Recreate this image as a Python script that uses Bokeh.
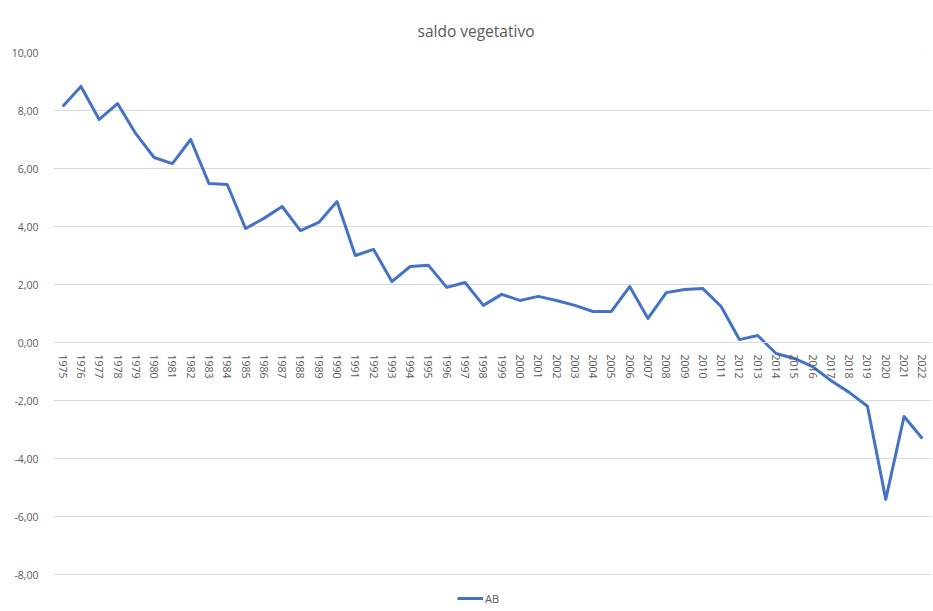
from bokeh.plotting import figure
from bokeh.models import Range1d, CustomJSTickFormatter, FixedTicker, Legend, LegendItem, Title
from bokeh.embed import file_html
from bokeh.resources import INLINE

years = [str(y) for y in range(1975, 2023)]
saldo = [8.14, 8.83, 7.69, 8.24, 7.20, 6.38, 6.17, 7.00, 5.48, 5.45,
         3.93, 4.28, 4.69, 3.86, 4.14, 4.86, 3.00, 3.21, 2.10, 2.62,
         2.66, 1.90, 2.07, 1.28, 1.66, 1.45, 1.59, 1.45, 1.28, 1.07,
         1.07, 1.93, 0.83, 1.72, 1.83, 1.86, 1.24, 0.10, 0.24, -0.38,
         -0.55, -0.83, -1.31, -1.72, -2.20, -5.41, -2.55, -3.31]
y_ticks = [-8, -6, -4, -2, 0, 2, 4, 6, 8, 10]
series_name = "AB"
title_text = "saldo vegetativo"

GREY = "#595959"
GRID = "#d9d9d9"
FONT = "Open Sans"

# frame spans from y=52 (value 10) to the canvas bottom; 29 px per unit
FRAME_TOP = 52
FRAME_BOTTOM = 609
PX_PER_UNIT = 29.0
y_low = 10 - (FRAME_BOTTOM - FRAME_TOP) / PX_PER_UNIT

p = figure(width=933, height=611, x_range=years, y_range=Range1d(y_low, 10),
           output_backend="svg", toolbar_location=None,
           min_border_left=53, min_border_right=2, min_border_top=FRAME_TOP,
           min_border_bottom=611 - FRAME_BOTTOM)
p.outline_line_color = None
p.styles = {"outline": "1px solid #d9d9d9", "outline-offset": "-6px"}

t = Title(text=title_text, align="left", text_font=FONT, text_font_size="15.5px",
          text_color=GREY, text_font_style="normal", offset=364, standoff=22)
p.title = t

r = p.line(years, saldo, line_color="#4472C4", line_width=3, line_join="round")

# y axis
p.yaxis.ticker = FixedTicker(ticks=y_ticks)
p.yaxis.formatter = CustomJSTickFormatter(code="return tick.toFixed(2).replace('.', ',');")
p.yaxis.axis_line_color = None
p.yaxis.major_tick_line_color = None
p.yaxis.minor_tick_line_color = None
p.yaxis.major_label_standoff = 9
p.yaxis.major_label_text_font = FONT
p.yaxis.major_label_text_font_size = "10.5px"
p.yaxis.major_label_text_color = GREY

# x axis at y = 0
p.xaxis.fixed_location = 0
p.xaxis.axis_line_color = GRID
p.xaxis.axis_line_width = 1
p.xaxis.major_tick_line_color = None
p.xaxis.minor_tick_line_color = None
p.xaxis.major_label_orientation = "vertical"
p.xaxis.major_label_standoff = 6
p.xaxis.major_label_text_font = FONT
p.xaxis.major_label_text_font_size = "10.5px"
p.xaxis.major_label_text_color = GREY

p.xgrid.grid_line_color = None
p.ygrid.grid_line_color = GRID
p.ygrid.grid_line_width = 1

legend = Legend(items=[LegendItem(label=series_name, renderers=[r])],
                location=(404, 3), border_line_color=None,
                background_fill_alpha=0, label_text_font=FONT,
                label_text_font_size="11px", label_text_color=GREY,
                glyph_width=26, glyph_height=16, label_standoff=2,
                padding=0, margin=0, label_height=16)
p.add_layout(legend, "center")

open("out.html", "w").write(file_html(p, INLINE))
